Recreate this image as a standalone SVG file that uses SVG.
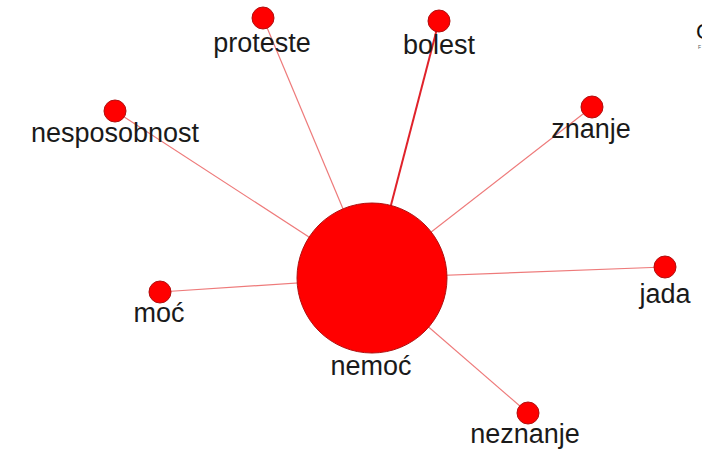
<svg xmlns="http://www.w3.org/2000/svg" width="702" height="458" viewBox="0 0 702 458">
<style>
.edge{stroke:#ee7a7a;stroke-width:1.2;fill:none}
.edge.strong{stroke:#e0222a;stroke-width:2}
.node{fill:#ff0000;stroke:#b01010;stroke-width:1}
.lbl{font-family:"Liberation Sans",Arial,sans-serif;font-size:27px;fill:#1a1a1a;text-anchor:middle}
</style>
<rect width="702" height="458" fill="#ffffff"/>
<g id="connectors">
<line class="edge" x1="372" y1="278" x2="263" y2="18"/>
<line class="edge strong" x1="372" y1="278" x2="439" y2="21"/>
<line class="edge" x1="372" y1="278" x2="115" y2="111"/>
<line class="edge" x1="372" y1="278" x2="592" y2="107"/>
<line class="edge" x1="372" y1="278" x2="665" y2="267"/>
<line class="edge" x1="372" y1="278" x2="160" y2="292"/>
<line class="edge" x1="372" y1="278" x2="528" y2="413"/>
</g>
<g id="nemoc"><circle class="node" cx="372" cy="278" r="75"/><text class="lbl" x="371" y="375">nemoć</text></g>
<g id="proteste"><circle class="node" cx="263" cy="18" r="11"/><text class="lbl" x="262" y="52">proteste</text></g>
<g id="bolest"><circle class="node" cx="439" cy="21" r="11"/><text class="lbl" x="439" y="54">bolest</text></g>
<g id="nesposobnost"><circle class="node" cx="115" cy="111" r="11"/><text class="lbl" x="115" y="142">nesposobnost</text></g>
<g id="znanje"><circle class="node" cx="592" cy="107" r="11"/><text class="lbl" x="591" y="138">znanje</text></g>
<g id="jada"><circle class="node" cx="665" cy="267" r="11"/><text class="lbl" x="665" y="303">jada</text></g>
<g id="moc"><circle class="node" cx="160" cy="292" r="11"/><text class="lbl" x="159" y="322">moć</text></g>
<g id="neznanje"><circle class="node" cx="528" cy="413" r="11"/><text class="lbl" x="525" y="443">neznanje</text></g>
<g id="legend"><text x="696" y="39" font-family="Liberation Sans,Arial,sans-serif" font-size="22" fill="#111">C</text><text x="698" y="49" font-family="Liberation Sans,Arial,sans-serif" font-size="5" fill="#555">F</text></g>
</svg>
